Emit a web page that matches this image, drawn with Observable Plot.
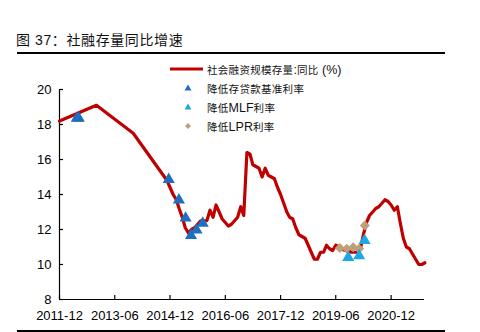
<!DOCTYPE html>
<html><head><meta charset="utf-8">
<script src="https://cdn.jsdelivr.net/npm/d3@7"></script>
<script src="https://cdn.jsdelivr.net/npm/@observablehq/plot@0.6"></script>
<style>
body{margin:0;background:#fff;}
#wrap{position:relative;width:480px;height:332px;overflow:hidden;font-family:"Liberation Sans","Noto Sans CJK SC",sans-serif;color:#111;}
#title{position:absolute;left:16px;top:31px;font-size:14px;line-height:18px;white-space:nowrap;letter-spacing:0.6px;}
.rule{position:absolute;left:17px;width:428px;height:1.5px;background:#000;}
#chart{position:absolute;left:0;top:0;}
.lrow{position:absolute;left:170px;height:18px;display:flex;align-items:center;white-space:nowrap;}
.lrow svg{flex:none;}
.cjk{font-family:"Noto Sans CJK SC",sans-serif;font-size:10.5px;letter-spacing:0.3px;}
.lat{font-family:"Liberation Sans",Arial,sans-serif;font-size:12.5px;}
</style></head>
<body>
<div id="wrap">
  <div id="title"></div>
  <div class="rule" style="top:52px"></div>
  <div id="chart"></div>
  <div id="legend"></div>
  <div class="rule" style="top:330px"></div>
</div>
<script>
// ---- data ----
const titleText = "图 37：社融存量同比增速";
const seriesNames = ["社会融资规模存量:同比 (%)", "降低存贷款基准利率", "降低MLF利率", "降低LPR利率"];
const colors = ["#c00000", "#1f6fc0", "#1ea7e4", "#bf9f7a"];

// early (year-end) points
const earlyMonths = ["2011-12", "2012-12", "2013-12"];
const earlyGrowth = [18.2, 19.1, 17.5];
// monthly from 2014-11 to 2021-11
const monthlyMonths = ["2014-11","2014-12","2015-01","2015-02","2015-03","2015-04","2015-05","2015-06","2015-07","2015-08","2015-09","2015-10","2015-11","2015-12",
"2016-01","2016-02","2016-03","2016-04","2016-05","2016-06","2016-07","2016-08","2016-09","2016-10","2016-11","2016-12",
"2017-01","2017-02","2017-03","2017-04","2017-05","2017-06","2017-07","2017-08","2017-09","2017-10","2017-11","2017-12",
"2018-01","2018-02","2018-03","2018-04","2018-05","2018-06","2018-07","2018-08","2018-09","2018-10","2018-11","2018-12",
"2019-01","2019-02","2019-03","2019-04","2019-05","2019-06","2019-07","2019-08","2019-09","2019-10","2019-11","2019-12",
"2020-01","2020-02","2020-03","2020-04","2020-05","2020-06","2020-07","2020-08","2020-09","2020-10","2020-11","2020-12",
"2021-01","2021-02","2021-03","2021-04","2021-05","2021-06","2021-07","2021-08","2021-09","2021-10","2021-11"];
const monthlyGrowth = [14.8,14.4,14.0,13.7,13.2,12.7,12.1,11.8,12.0,12.1,12.3,12.5,12.5,12.5,
13.1,12.7,13.4,13.0,12.6,12.4,12.2,12.3,12.5,12.7,13.3,12.8,
16.4,16.3,15.7,15.6,15.5,15.0,15.5,15.1,15.0,14.9,14.4,14.0,
13.5,13.0,12.7,12.6,12.1,11.7,11.6,11.5,11.1,10.7,10.3,10.3,
10.7,10.7,11.1,10.9,10.8,11.1,11.0,10.9,10.8,10.8,10.7,10.7,
10.7,10.9,11.7,12.4,12.8,13.0,13.2,13.3,13.5,13.7,13.6,13.4,
13.1,13.3,12.4,11.5,11.0,10.9,10.6,10.3,10.0,10.0,10.1];

const rateCutDates = ["2012-05-20","2012-06-10","2014-11-18","2015-02-27","2015-05-04","2015-06-27","2015-08-21","2015-10-21"];
const rateCutValues = [18.35,18.35,14.86,13.68,12.65,11.66,11.97,12.36];
const mlfDates = ["2019-10-03","2020-01-19","2020-03-13"];
const mlfValues = [10.4,10.5,11.37];
const lprDates = ["2019-07-12","2019-09-18","2019-11-21","2020-01-19","2020-03-15"];
const lprValues = [10.94,10.9,10.99,10.9,12.23];

const xTickLabels = ["2011-12","2013-06","2014-12","2016-06","2017-12","2019-06","2020-12"];
const yTicks = [8,10,12,14,16,18,20];
const xDomain = ["2011-12-01","2021-10-28"];
const yDomain = [8,20];

// ---- build ----
const pm = d3.utcParse("%Y-%m"), pd = d3.utcParse("%Y-%m-%d");
const lineData = earlyMonths.map((m,i)=>({date:pm(m), value:earlyGrowth[i]}))
  .concat(monthlyMonths.map((m,i)=>({date:pm(m), value:monthlyGrowth[i]})));
const rateData = rateCutDates.map((d,i)=>({date:pd(d), value:rateCutValues[i]}));
const mlfData = mlfDates.map((d,i)=>({date:pd(d), value:mlfValues[i]}));
const lprData = lprDates.map((d,i)=>({date:pd(d), value:lprValues[i]}));
const xTicks = xTickLabels.map(pm);

const W=480,H=332,mL=59,mR=56,mT=89,mB=33;
const plotW=W-mL-mR, plotH=H-mT-mB;

const chart = Plot.plot({
  width:W, height:H, marginLeft:mL, marginRight:mR, marginTop:mT, marginBottom:mB,
  x:{type:"utc", domain:xDomain.map(pd)},
  y:{domain:yDomain},
  style:{fontFamily:"Liberation Sans, Arial, sans-serif", fontSize:"13px", color:"#000", background:"transparent", overflow:"visible"},
  marks:[
    Plot.ruleY([yDomain[0]], {stroke:"#000", strokeWidth:1.2}),
    Plot.ruleX([pd(xDomain[0])], {stroke:"#000", strokeWidth:1.2}),
    Plot.tickY(yTicks, {y:d=>d, stroke:"#000", strokeWidth:1.2, insetRight:plotW-4}),
    Plot.tickX(xTicks, {x:d=>d, stroke:"#000", strokeWidth:1.2, insetTop:plotH-4}),
    Plot.axisY({ticks:yTicks, tickSize:0, tickPadding:8, label:null, fill:"#000"}),
    Plot.axisX({ticks:xTicks, tickSize:0, tickPadding:11, tickFormat:d3.utcFormat("%Y-%m"), label:null, fill:"#000"}),
    Plot.line(lineData, {x:"date", y:"value", stroke:colors[0], strokeWidth:3.2, strokeLinejoin:"round"}),
    Plot.dot(lprData, {x:"date", y:"value", symbol:"diamond2", r:4.5, fill:colors[3], stroke:null}),
    Plot.dot(mlfData, {x:"date", y:"value", symbol:"triangle", r:4.5, fill:colors[2], stroke:null}),
    Plot.dot(rateData, {x:"date", y:"value", symbol:"triangle", r:4.5, fill:colors[1], stroke:null})
  ]
});
document.getElementById("chart").appendChild(chart);

function rich(el, s){
  const re=/[\u3000-\u9fff\uff00-\uffef]+|[^\u3000-\u9fff\uff00-\uffef]+/g;
  for(const seg of s.match(re)){
    const sp=document.createElement("span");
    sp.className=/[\u3000-\u9fff\uff00-\uffef]/.test(seg)?"cjk":"lat";
    sp.textContent=seg; el.appendChild(sp);
  }
}
document.getElementById("title").textContent = titleText;

const legend=document.getElementById("legend");
const swatch=[
  `<line x1="0" y1="9" x2="33" y2="9" stroke="${colors[0]}" stroke-width="3"/>`,
  `<path d="M18,5.5 L21.5,11.5 L14.5,11.5Z" fill="${colors[1]}"/>`,
  `<path d="M18,5.5 L21.5,11.5 L14.5,11.5Z" fill="${colors[2]}"/>`,
  `<path d="M18,6 L21,9 L18,12 L15,9Z" fill="${colors[3]}"/>`
];
seriesNames.forEach((n,i)=>{
  const row=document.createElement("div");
  row.className="lrow"; row.style.top=(69+19*i-9)+"px";
  row.innerHTML=`<svg width="37" height="18">${swatch[i]}</svg>`;
  const t=document.createElement("span"); rich(t,n); row.appendChild(t);
  legend.appendChild(row);
});
</script>
</body></html>
